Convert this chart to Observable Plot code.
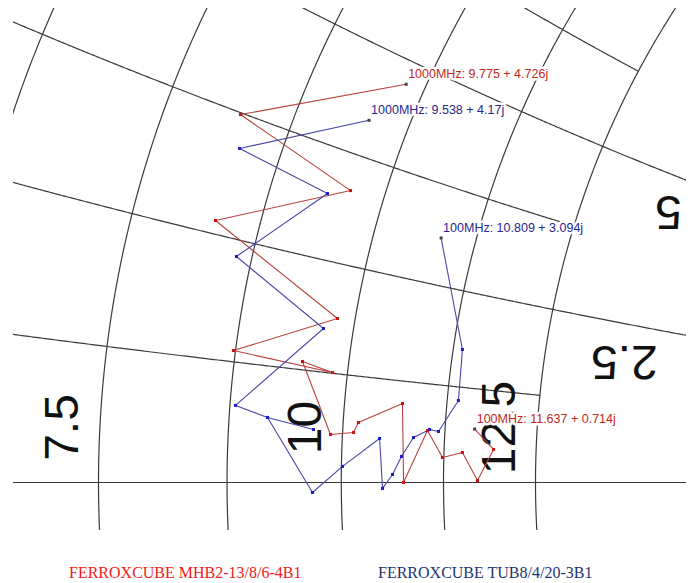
<!DOCTYPE html>
<html><head><meta charset="utf-8">
<script src="https://cdn.jsdelivr.net/npm/d3@7"></script>
<script src="https://cdn.jsdelivr.net/npm/@observablehq/plot@0.6"></script>
<style>
body{margin:0;background:#fff;}
#chart{position:relative;width:693px;height:583px;overflow:hidden;}
#legend{position:absolute;left:0;top:540px;width:693px;height:43px;font-family:"Liberation Serif","Times New Roman",serif;font-size:16px;line-height:1;}
#legend span{position:absolute;top:25px;white-space:nowrap;}
</style></head><body>
<div id="chart"><div id="plot"></div><div id="legend"></div></div>
<script>
// Smith chart (impedance), reference impedance in ohms
const Z0 = 12.5;
// grid: constant-resistance circles and constant-reactance arcs (ohms)
const resistanceCircles = [5, 6.25, 7.5, 8.75, 10, 11.25, 12.5, 15];
const reactanceArcs     = [1.25, 2.5, 3.75, 5, 6.25, 7.5];
const reactanceArcEndR  = [12.5, 50, 12.5, 50, 12.5, 50];
const resistanceLabels  = [7.5, 10, 12.5];
const reactanceLabels   = [2.5, 5];

// measured reflection coefficient, 100 MHz -> 1000 MHz (Re, Im)
const mhbRe = [-0.0348,-0.0240,-0.0332,-0.0418,-0.0532,-0.0618,-0.0755,-0.0761,-0.1013,-0.1041,-0.1173,-0.1333,-0.1161,-0.1728,-0.1133,-0.1831,-0.1058,-0.1688,-0.0740];
const mhbIm = [ 0.0306, 0.0189, 0.0011, 0.0172, 0.0143, 0.0297, 0.0000, 0.0452, 0.0343, 0.0286, 0.0275, 0.0692, 0.0629, 0.0755, 0.0938, 0.1499, 0.1670, 0.2105, 0.2278];
const tubRe = [-0.0540,-0.0418,-0.0441,-0.0555,-0.0606,-0.0698,-0.0767,-0.0818,-0.0875,-0.0892,-0.1104,-0.1276,-0.1533,-0.1270,-0.1533,-0.1716,-0.1213,-0.1711,-0.1190,-0.1693,-0.0952];
const tubIm = [ 0.1399, 0.0761, 0.0469, 0.0292, 0.0303, 0.0257, 0.0149, 0.0046,-0.0034, 0.0252, 0.0092,-0.0057, 0.0372, 0.0303, 0.0372, 0.0441, 0.0881, 0.1293, 0.1653, 0.1911, 0.2072];
const mhbMarkers = ["100MHz: 11.637 + 0.714j", "1000MHz: 9.775 + 4.726j"];
const tubMarkers = ["100MHz: 10.809 + 3.094j", "1000MHz: 9.538 + 4.17j"];
const seriesNames = ["FERROXCUBE MHB2-13/8/6-4B1", "FERROXCUBE TUB8/4/20-3B1"];

function gamma(R, X) {
  const r = R / Z0, x = X / Z0, d = (r + 1) ** 2 + x * x;
  return [(r * r + x * x - 1) / d, 2 * x / d];
}

const grid = [];
resistanceCircles.forEach((R, k) => {
  for (let X = -3; X <= 14; X += 0.02) { const g = gamma(R, X); grid.push({id: "r" + k, u: g[0], v: g[1]}); }
});
reactanceArcs.forEach((X, k) => {
  for (let R = 2; R <= reactanceArcEndR[k] + 1e-9; R += 0.02) { const g = gamma(R, X); grid.push({id: "x" + k, u: g[0], v: g[1]}); }
});

const mhb = mhbRe.map((u, i) => ({u, v: mhbIm[i]}));
const tub = tubRe.map((u, i) => ({u, v: tubIm[i]}));
const ends = arr => [arr[0], arr[arr.length - 1]];
const mhbAnn = ends(mhb).map((p, i) => ({...p, t: mhbMarkers[i]}));
const tubAnn = ends(tub).map((p, i) => ({...p, t: tubMarkers[i]}));
const rLab = resistanceLabels.map(R => { const g = gamma(R, 0); return {u: g[0], v: g[1], t: String(R)}; });
const xLab = reactanceLabels.map(X => { const g = gamma(13.6, X); return {u: g[0], v: g[1], t: String(X)}; });

const redLine = "#b8433e", redDot = "#cc1111", redText = "#c0281e";
const blueLine = "#4848a8", blueDot = "#1a1ac4", blueText = "#26268e";
const sans = "'Liberation Sans', Arial, sans-serif";

const plot = Plot.plot({
  width: 693, height: 540,
  marginLeft: 13, marginRight: 7, marginTop: 8, marginBottom: 10,
  x: {domain: [-0.29863, 0.08638], axis: null},
  y: {domain: [-0.02746, 0.27117], axis: null},
  style: {background: "white"},
  marks: [
    Plot.line(grid, {x: "u", y: "v", z: "id", stroke: "#3a3a3a", strokeWidth: 1.2, clip: true}),
    Plot.ruleY([0], {stroke: "#3a3a3a", strokeWidth: 1.2}),
    Plot.text(rLab, {x: "u", y: "v", text: "t", rotate: -90, dx: -36, dy: -55, fontSize: 48, fontFamily: sans, fill: "#111"}),
    Plot.text(xLab, {x: "u", y: "v", text: "t", rotate: 180, dy: 38, fontSize: 48, fontFamily: sans, fill: "#111"}),
    Plot.line(mhb, {x: "u", y: "v", stroke: redLine, strokeWidth: 1.1}),
    Plot.line(tub, {x: "u", y: "v", stroke: blueLine, strokeWidth: 1.1}),
    Plot.dot(mhb.slice(1, -1), {x: "u", y: "v", symbol: "square", r: 1.7, fill: redDot}),
    Plot.dot(tub.slice(1, -1), {x: "u", y: "v", symbol: "square", r: 1.7, fill: blueDot}),
    Plot.dot(mhbAnn, {x: "u", y: "v", symbol: "square", r: 1.7, fill: "#444"}),
    Plot.dot(tubAnn, {x: "u", y: "v", symbol: "square", r: 1.7, fill: "#444"}),
    Plot.text(mhbAnn, {x: "u", y: "v", text: "t", textAnchor: "start", dx: 2, dy: -10, fontSize: 12.5, fontFamily: sans, fill: redText, stroke: "white", strokeWidth: 5, paintOrder: "stroke"}),
    Plot.text(tubAnn, {x: "u", y: "v", text: "t", textAnchor: "start", dx: 2, dy: -10, fontSize: 12.5, fontFamily: sans, fill: blueText, stroke: "white", strokeWidth: 5, paintOrder: "stroke"})
  ]
});
document.getElementById("plot").appendChild(plot);

const legend = document.getElementById("legend");
const legendColors = ["#f01a1a", "#1e3470"];
const legendLeft = [69, 378];
seriesNames.forEach((n, i) => {
  const s = document.createElement("span");
  s.textContent = n; s.style.color = legendColors[i]; s.style.left = legendLeft[i] + "px";
  legend.appendChild(s);
});
</script>
</body></html>
